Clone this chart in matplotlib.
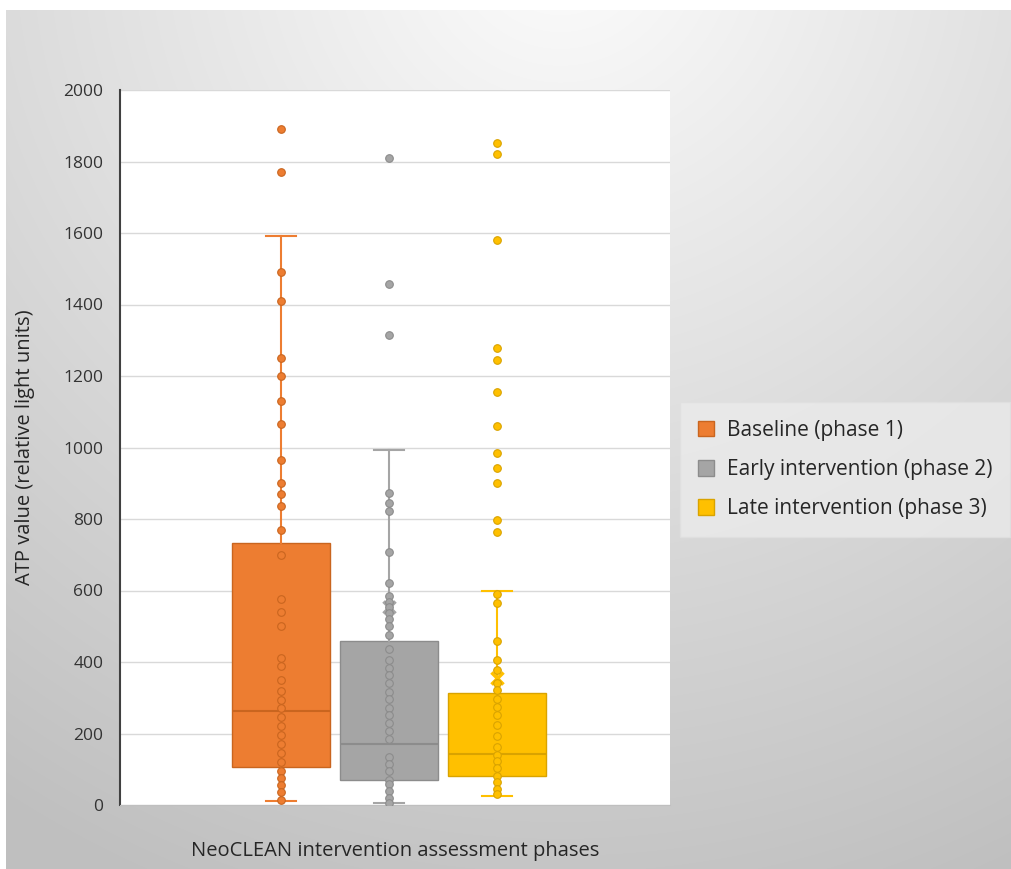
import matplotlib.pyplot as plt
import numpy as np
from matplotlib.patches import Patch

plt.rcParams['font.family'] = ['Open Sans', 'DejaVu Sans']

# data
phases = ['Baseline (phase 1)', 'Early intervention (phase 2)', 'Late intervention (phase 3)']
colors = ['#ED7D31', '#A5A5A5', '#FFC000']
edges = ['#C9651F', '#8C8C8C', '#D9A300']

baseline = [1890, 1770, 1490, 1410, 1250, 1200, 1130, 1065, 965, 900, 870, 835, 770, 700,
            575, 540, 500, 410, 390, 350, 320, 295, 270, 245, 220, 195, 170, 145, 120, 95,
            75, 55, 35, 15]
early = [1809, 1457, 1316, 872, 845, 823, 707, 620, 585, 568, 553, 536, 521, 502, 476,
         437, 405, 383, 363, 341, 315, 296, 270, 251, 228, 206, 184, 135, 116, 96, 71, 58,
         39, 19, 6]
late = [1852, 1820, 1580, 1278, 1245, 1156, 1061, 986, 943, 902, 796, 765, 590, 566, 459,
        405, 379, 341, 321, 296, 274, 251, 225, 193, 161, 141, 122, 103, 81, 64, 45, 30]

whislo = [10, 6, 26]
q1 = [105, 70, 80]
med = [262, 172, 142]
q3 = [732, 460, 312]
whishi = [1592, 994, 598]
means = [625, 555, 355]

series = [baseline, early, late]
positions = [1, 2, 3]

fig = plt.figure(figsize=(10.11, 8.69), dpi=100)

# background: soft radial grey gradient with a white margin on top/left
bg = fig.add_axes([0, 0, 1, 1], zorder=-10)
yy, xx = np.mgrid[0:869, 0:1011]
r = np.sqrt(((xx - 560) / 900.0) ** 2 + ((yy + 60) / 900.0) ** 2)
shade = np.clip(0.99 - 0.21 * r, 0.75, 1.0)
img = np.dstack([shade, shade, shade])
img[:10, :, :] = 1.0
img[:, :6, :] = 1.0
bg.imshow(img, aspect='auto', extent=[0, 1, 0, 1], origin='upper')
bg.axis('off')

ax = fig.add_axes([120 / 1011, 64 / 869, 550 / 1011, 715 / 869])
ax.set_facecolor('white')

stats = []
for i in range(3):
    stats.append(dict(med=med[i], q1=q1[i], q3=q3[i], whislo=whislo[i],
                      whishi=whishi[i], mean=means[i], fliers=[]))

for i in range(3):
    ax.bxp([stats[i]], positions=[positions[i]], widths=0.91, patch_artist=True,
           showmeans=True, showfliers=False,
           boxprops=dict(facecolor=colors[i], edgecolor=edges[i], linewidth=1),
           medianprops=dict(color=edges[i], linewidth=1.5),
           whiskerprops=dict(color=colors[i], linewidth=1.5),
           capprops=dict(color=colors[i], linewidth=1.5),
           capwidths=0.28,
           meanprops=dict(marker='x', markeredgecolor=colors[i], markersize=8,
                          markeredgewidth=2.5),
           zorder=2)
    ax.scatter([positions[i]] * len(series[i]), series[i], s=30, facecolor=colors[i],
               edgecolor=edges[i], linewidth=0.8, zorder=3)

ax.set_ylim(0, 2000)
ax.set_xlim(-0.49, 4.6)
ax.set_yticks(np.arange(0, 2001, 200))
ax.set_xticks([])
ax.yaxis.grid(True, color='#D9D9D9', linewidth=1)
ax.set_axisbelow(True)
ax.tick_params(axis='y', length=0, pad=12, labelsize=12.5, labelcolor='#333333')
for s in ['top', 'right']:
    ax.spines[s].set_visible(False)
ax.spines['left'].set_color('#404040')
ax.spines['left'].set_linewidth(1.5)
ax.spines['bottom'].set_color('#BFBFBF')

ax.set_ylabel('ATP value (relative light units)', fontsize=14.5, color='#262626')
ax.yaxis.set_label_coords(-0.155, 0.5)
ax.set_xlabel('NeoCLEAN intervention assessment phases', fontsize=14.5, color='#262626')
ax.xaxis.set_label_coords(0.5, -0.05)

handles = [Patch(facecolor=colors[i], edgecolor=edges[i]) for i in range(3)]
leg = fig.legend(handles, phases, loc='upper left', bbox_to_anchor=(680 / 1011, 1 - 402 / 869),
                 fontsize=15, frameon=True, fancybox=False, facecolor='#EBEBEB',
                 edgecolor='#E0E0E0', handlelength=0.8, handleheight=0.8,
                 labelspacing=0.88, borderpad=0.85, handletextpad=0.6,
                 borderaxespad=0)
for t in leg.get_texts():
    t.set_color('#262626')

fig.savefig('out.png', dpi=100)
